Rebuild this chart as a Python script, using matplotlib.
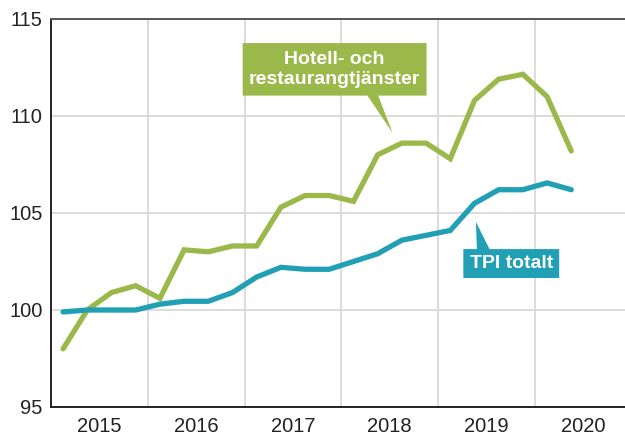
import numpy as np
import matplotlib.pyplot as plt
from matplotlib.patches import Polygon

# quarterly index, 2015 Q1 .. 2020 Q2
years = [2015] * 4 + [2016] * 4 + [2017] * 4 + [2018] * 4 + [2019] * 4 + [2020] * 2
quarters = [1, 2, 3, 4] * 5 + [1, 2]

hotell = [98.0, 100.0, 100.9, 101.25, 100.6, 103.1, 103.0, 103.3, 103.3, 105.3, 105.9,
          105.9, 105.6, 108.0, 108.6, 108.6, 107.8, 110.8, 111.9, 112.15, 111.0, 108.2]
tpi = [99.9, 100.0, 100.0, 100.0, 100.3, 100.45, 100.45, 100.9, 101.7, 102.2, 102.1,
       102.1, 102.5, 102.9, 103.6, 103.85, 104.1, 105.5, 106.2, 106.2, 106.55, 106.2]

year_labels = ['2015', '2016', '2017', '2018', '2019', '2020']
y_ticks = [95, 100, 105, 110, 115]

GREEN = '#9bb84b'
BLUE = '#209fb5'
TEXT = '#222222'

plt.rcParams['font.family'] = ['Liberation Sans', 'DejaVu Sans']


def main():
    x = np.array(years) + (np.array(quarters) - 0.5) / 4

    fig = plt.figure(figsize=(6.25, 4.37), dpi=100)
    ax = fig.add_axes([51 / 625, 30 / 437, 574 / 625, 388 / 437])

    ax.plot(x, hotell, color=GREEN, lw=3.8, solid_capstyle='round', solid_joinstyle='miter', zorder=3)
    ax.plot(x, tpi, color=BLUE, lw=3.8, solid_capstyle='round', solid_joinstyle='miter', zorder=4)

    ax.set_xlim(2015, 2020.93)
    ax.set_ylim(95, 115)

    ax.set_xticks(range(2016, 2021))
    ax.set_xticklabels([])
    ax.set_xticks(np.arange(2015.5, 2021), minor=True)
    ax.set_xticklabels(year_labels, minor=True)
    ax.set_yticks(y_ticks)
    ax.tick_params(which='both', length=0, labelsize=14.5, colors=TEXT)
    ax.tick_params(axis='y', pad=6)
    ax.tick_params(axis='x', which='minor', pad=7)

    ax.grid(True, which='major', color='#d9d9d9', lw=1.3, zorder=0)
    ax.set_axisbelow(True)

    for side in ['left', 'bottom']:
        ax.spines[side].set_color('#222222')
        ax.spines[side].set_linewidth(1.4)
    ax.spines['top'].set_color('#555555')
    ax.spines['top'].set_linewidth(1.4)
    ax.spines['right'].set_visible(False)

    # callout for Hotell- och restaurangtjänster
    g_box = [(2016.98, 113.76), (2018.88, 113.76), (2018.88, 111.05),
             (2018.38, 111.05), (2018.53, 109.12), (2018.27, 111.05), (2016.98, 111.05)]
    ax.add_patch(Polygon(g_box, closed=True, facecolor=GREEN, edgecolor='none', zorder=5))
    ax.text(2017.93, 112.38, 'Hotell- och\nrestaurangtjänster', color='white', fontsize=14,
            fontweight='bold', ha='center', va='center', linespacing=1.25, zorder=6)

    # callout for TPI totalt
    b_box = [(2019.26, 101.65), (2020.25, 101.65), (2020.25, 103.14), (2019.53, 103.14),
             (2019.39, 104.54), (2019.40, 103.14), (2019.26, 103.14)]
    ax.add_patch(Polygon(b_box, closed=True, facecolor=BLUE, edgecolor='none', zorder=5))
    ax.text(2019.755, 102.38, 'TPI totalt', color='white', fontsize=14,
            fontweight='bold', ha='center', va='center', zorder=6)

    plt.savefig('out.png', dpi=100)


if __name__ == '__main__':
    main()
